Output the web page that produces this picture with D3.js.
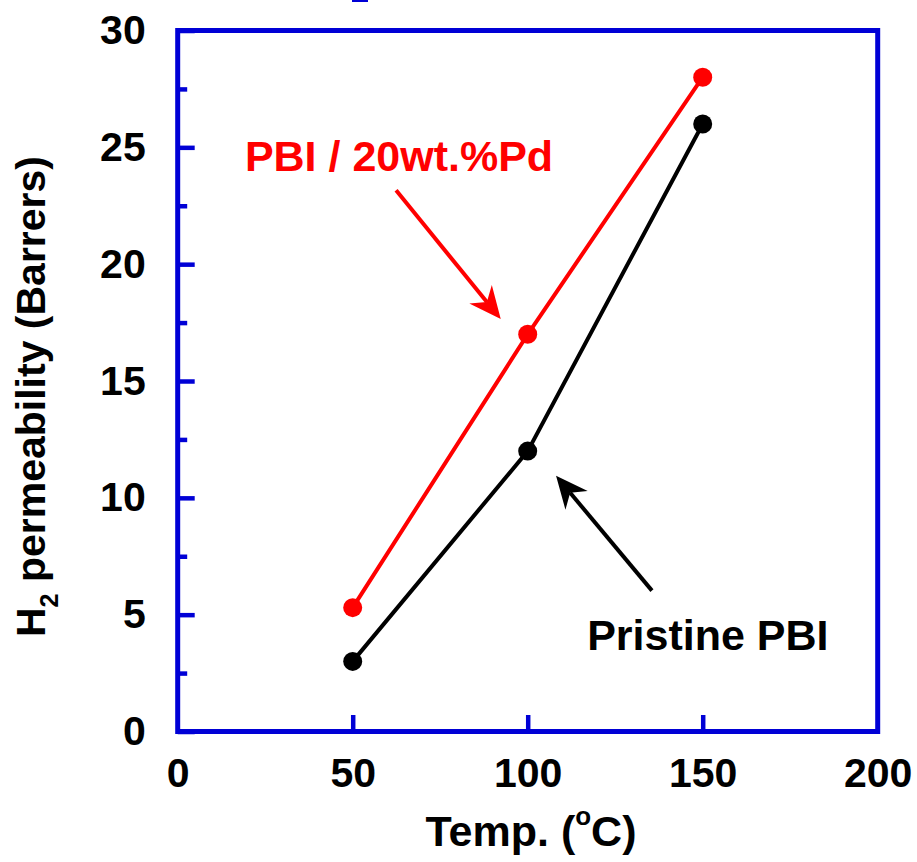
<!DOCTYPE html>
<html lang="en">
<head>
  <meta charset="UTF-8" />
  <title>H2 permeability vs temperature</title>
  <script src="https://d3js.org/d3.v7.min.js"></script>
  <style>
    body { margin: 0; background: #fff; }
    text { font-family: "Liberation Sans", Arial, sans-serif; font-weight: bold; }
  </style>
</head>
<body>
  <svg id="chart" width="917" height="862"></svg>
  <script>
    // data
    const temps = [50, 100, 150];
    const pdPerm = [5.3, 17, 28];        // PBI / 20wt.%Pd
    const pristinePerm = [3, 12, 26];    // Pristine PBI
    const xTicks = [0, 50, 100, 150, 200];
    const yTicks = [0, 5, 10, 15, 20, 25, 30];
    const yMinor = [2.5, 7.5, 12.5, 17.5, 22.5, 27.5];

    const blue = "#0000d6";
    const svg = d3.select("#chart");

    const x = d3.scaleLinear().domain([0, 200]).range([177.7, 877.7]);
    const y = d3.scaleLinear().domain([0, 30]).range([731.5, 30.5]);

    // little blue mark cut off at the top
    svg.append("rect").attr("x", 352).attr("y", 0).attr("width", 16).attr("height", 2).attr("fill", blue);

    // y ticks (inside)
    svg.append("g")
      .attr("transform", `translate(${x(0)},0)`)
      .call(d3.axisLeft(y).tickValues(yTicks).tickSize(-17).tickPadding(32).tickFormat(d3.format("d")));
    svg.append("g")
      .attr("transform", `translate(${x(0)},0)`)
      .call(d3.axisLeft(y).tickValues(yMinor).tickSize(-9.5).tickFormat(""));

    // x ticks (inside, only the inner majors)
    svg.append("g")
      .attr("transform", `translate(0,${y(0)})`)
      .call(d3.axisBottom(x).tickValues(xTicks.slice(1, 4)).tickSize(-16.5).tickFormat(""));
    svg.append("g")
      .attr("transform", `translate(0,${y(0)})`)
      .call(d3.axisBottom(x).tickValues(xTicks).tickSize(0).tickPadding(26).tickFormat(d3.format("d")));

    svg.selectAll(".domain").remove();
    svg.selectAll(".tick line").attr("stroke", blue).attr("stroke-width", 4.5);
    svg.selectAll(".tick text").attr("fill", "#000").style("font-size", "41px");

    // frame
    svg.append("rect")
      .attr("x", x(0)).attr("y", y(30))
      .attr("width", x(200) - x(0)).attr("height", y(0) - y(30))
      .attr("fill", "none").attr("stroke", blue).attr("stroke-width", 5);

    // series
    const line = d3.line().x(d => x(d[0])).y(d => y(d[1]));
    const series = [
      { vals: pdPerm, color: "#ff0000" },
      { vals: pristinePerm, color: "#000000" }
    ];
    series.forEach(s => {
      const pts = temps.map((t, i) => [t, s.vals[i]]);
      svg.append("path").datum(pts).attr("d", line)
        .attr("fill", "none").attr("stroke", s.color).attr("stroke-width", 4);
      svg.selectAll(null).data(pts).join("circle")
        .attr("cx", d => x(d[0])).attr("cy", d => y(d[1])).attr("r", 9.5)
        .attr("fill", s.color);
    });

    // annotations (data coordinates)
    function arrow(from, to, color) {
      const x0 = x(from[0]), y0 = y(from[1]), x1 = x(to[0]), y1 = y(to[1]);
      const len = Math.hypot(x1 - x0, y1 - y0);
      const ux = (x1 - x0) / len, uy = (y1 - y0) / len;
      const px = -uy, py = ux;
      const hl = 32, hw = 14.5, notch = 22;
      svg.append("line")
        .attr("x1", x0).attr("y1", y0)
        .attr("x2", x1 - ux * notch).attr("y2", y1 - uy * notch)
        .attr("stroke", color).attr("stroke-width", 4);
      const head = [
        [x1, y1],
        [x1 - ux * hl + px * hw, y1 - uy * hl + py * hw],
        [x1 - ux * notch, y1 - uy * notch],
        [x1 - ux * hl - px * hw, y1 - uy * hl - py * hw]
      ];
      svg.append("path").attr("d", "M" + head.join("L") + "Z").attr("fill", color);
    }
    arrow([62.4, 23.16], [92.3, 17.65], "#ff0000");
    arrow([135.5, 6.03], [108.1, 10.94], "#000000");

    svg.append("text").attr("x", x(19.2)).attr("y", y(24.0))
      .attr("fill", "#ff0000").style("font-size", "43px").text("PBI / 20wt.%Pd");
    svg.append("text").attr("x", x(117)).attr("y", y(3.5))
      .attr("fill", "#000").style("font-size", "43px").text("Pristine PBI");

    // axis titles
    const xt = svg.append("text").attr("x", 531).attr("y", 846)
      .attr("text-anchor", "middle").style("font-size", "43px");
    xt.append("tspan").text("Temp. (");
    xt.append("tspan").attr("dy", -21).style("font-size", "26px").text("o");
    xt.append("tspan").attr("dy", 21).text("C)");

    const yt = svg.append("text").attr("transform", "translate(45,637) rotate(-90)")
      .style("font-size", "41px");
    yt.append("tspan").text("H");
    yt.append("tspan").attr("dy", 13).style("font-size", "25px").text("2");
    yt.append("tspan").attr("dy", -13).text(" permeability (Barrers)");
  </script>
</body>
</html>
